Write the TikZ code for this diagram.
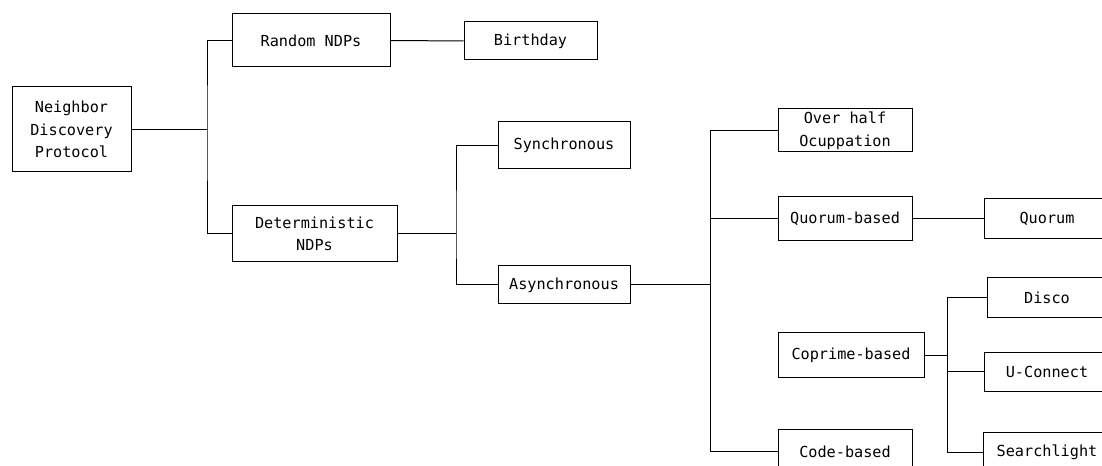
\documentclass[tikz,border=0pt]{standalone}
\usepackage{fontspec}
\newfontfamily\boxfont{DejaVu Sans Mono}
\begin{document}
\begin{tikzpicture}[x=0.75pt,y=-0.75pt,
  box/.style={draw=black, line width=0.75pt, inner sep=0pt, align=center,
    font=\boxfont\fontsize{11.4}{17}\selectfont},
  conn/.style={draw=black, line width=0.75pt}]
\useasboundingbox (0,0) rectangle (1102,466);
\clip (0,0) rectangle (1102,466);
\fill[white] (0,0) rectangle (1102,466);
% nodes
\node[box, minimum width=89.25pt, minimum height=63.75pt] (ndp) at (71.5,129.5) {Neighbor\\Discovery\\Protocol};
\node[box, minimum width=118.5pt, minimum height=39.75pt] (rand) at (311,40.5) {Random NDPs};
\node[box, minimum width=123.75pt, minimum height=42pt] (det) at (314.5,234) {Deterministic\\NDPs};
\node[box, minimum width=99.75pt, minimum height=28.5pt] (bday) at (530.5,41) {Birthday};
\node[box, minimum width=99pt, minimum height=35.25pt] (sync) at (564,145.5) {Synchronous};
\node[box, minimum width=99pt, minimum height=28.5pt] (async) at (564,285) {Asynchronous};
\node[box, minimum width=100.5pt, minimum height=32.25pt] (over) at (845,130.5) {Over half\\Ocuppation};
\node[box, minimum width=100.5pt, minimum height=33pt] (qb) at (845,219) {Quorum-based};
\node[box, minimum width=94.5pt, minimum height=30pt] (quorum) at (1047,219) {Quorum};
\node[box, minimum width=109.5pt, minimum height=33pt] (cop) at (851,355) {Coprime-based};
\node[box, minimum width=90pt, minimum height=30pt] (disco) at (1047,298) {Disco};
\node[box, minimum width=94.5pt, minimum height=29.25pt] (uconn) at (1047,371.5) {U-Connect};
\node[box, minimum width=96pt, minimum height=30pt] (search) at (1047,452) {Searchlight};
\node[box, minimum width=100.5pt, minimum height=33pt] (code) at (845,451.5) {Code-based};
% junctions
\coordinate (j1) at (207,129.5);
\coordinate (j2) at (456,234);
\coordinate (j3) at (710,285);
\coordinate (j4) at (947,355);
% connectors
\draw[conn] (ndp.east) -- (j1);
\draw[conn] (rand.west) -| (j1) |- (det.west);
\draw[conn] (rand.east) -- (bday.west);
\draw[conn] (det.east) -- (j2);
\draw[conn] (sync.west) -| (j2) |- (async.west);
\draw[conn] (async.east) -- (j3);
\draw[conn] (over.west) -| (j3) |- (code.west);
\draw[conn] (qb.west) -- (qb.west -| j3);
\draw[conn] (qb.east) -- (quorum.west);
\draw[conn] (cop.east) -- (j4);
\draw[conn] (disco.west) -| (j4) |- (search.west);
\draw[conn] (uconn.west) -- (uconn.west -| j4);
\end{tikzpicture}
\end{document}
